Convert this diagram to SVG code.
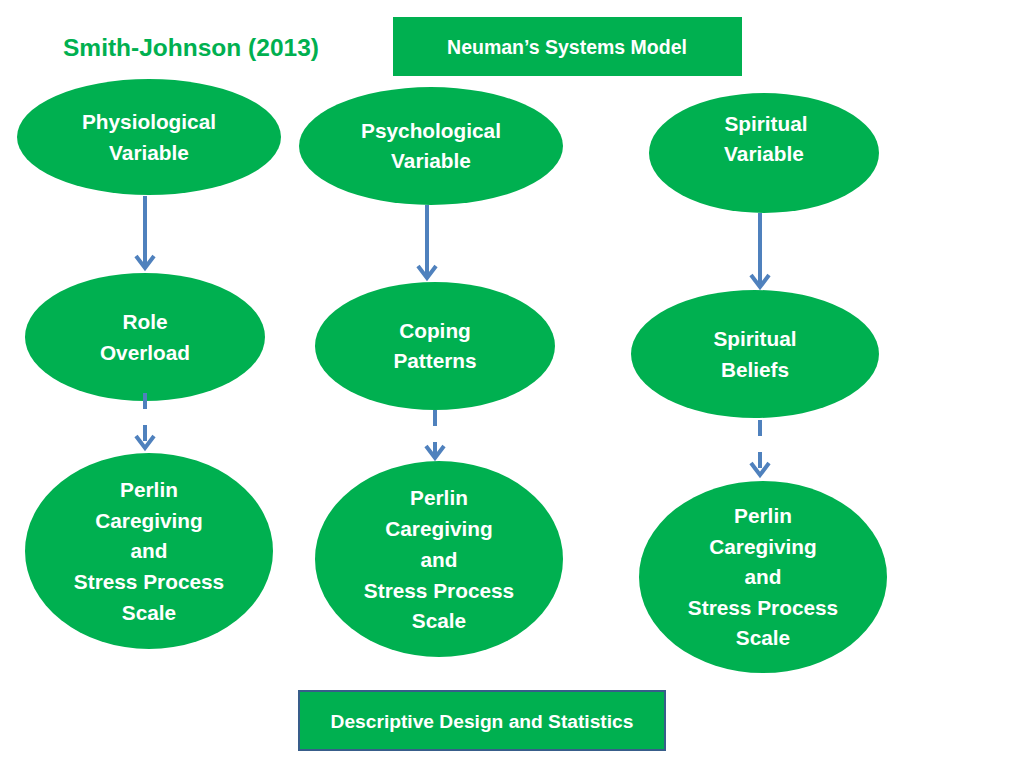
<svg xmlns="http://www.w3.org/2000/svg" width="1024" height="768" viewBox="0 0 1024 768">
<defs>
<style>
.n{fill:#00B050;}
.t{font-family:"Liberation Sans",Arial,sans-serif;font-weight:bold;fill:#ffffff;font-size:20.8px;text-anchor:middle;}
.c{stroke:#4F81BD;stroke-width:4;fill:none;}
.d{stroke-dasharray:16,16;}
</style>
</defs>
<rect width="1024" height="768" fill="#ffffff"/>
<text x="63" y="56" font-family="Liberation Sans,Arial,sans-serif" font-weight="bold" font-size="24.5" fill="#00B050">Smith-Johnson (2013)</text>
<g id="neuman">
<rect x="393" y="17" width="349" height="59" class="n"/>
<text x="567" y="54" class="t" style="font-size:19.5px">Neuman’s Systems Model</text>
</g>
<g id="physiological">
<ellipse cx="149" cy="137" rx="132" ry="58" class="n"/>
<text class="t" x="149" y="129">Physiological</text>
<text class="t" x="149" y="160">Variable</text>
</g>
<g id="psychological">
<ellipse cx="431" cy="146" rx="132" ry="59" class="n"/>
<text class="t" x="431" y="138">Psychological</text>
<text class="t" x="431" y="168">Variable</text>
</g>
<g id="spiritual">
<ellipse cx="764" cy="153" rx="115" ry="60" class="n"/>
<text class="t" x="766" y="131">Spiritual</text>
<text class="t" x="764" y="161">Variable</text>
</g>
<g id="role">
<ellipse cx="145" cy="337" rx="120" ry="64" class="n"/>
<text class="t" x="145" y="329">Role</text>
<text class="t" x="145" y="360">Overload</text>
</g>
<g id="coping">
<ellipse cx="435" cy="346" rx="120" ry="64" class="n"/>
<text class="t" x="435" y="338">Coping</text>
<text class="t" x="435" y="368">Patterns</text>
</g>
<g id="beliefs">
<ellipse cx="755" cy="354" rx="124" ry="64" class="n"/>
<text class="t" x="755" y="346">Spiritual</text>
<text class="t" x="755" y="377">Beliefs</text>
</g>
<g id="perlin1">
<ellipse cx="149" cy="551" rx="124" ry="98" class="n"/>
<text class="t" x="149" y="497">Perlin</text>
<text class="t" x="149" y="528">Caregiving</text>
<text class="t" x="149" y="558">and</text>
<text class="t" x="149" y="589">Stress Process</text>
<text class="t" x="149" y="620">Scale</text>
</g>
<g id="perlin2">
<ellipse cx="439" cy="559" rx="124" ry="98" class="n"/>
<text class="t" x="439" y="505">Perlin</text>
<text class="t" x="439" y="536">Caregiving</text>
<text class="t" x="439" y="567">and</text>
<text class="t" x="439" y="598">Stress Process</text>
<text class="t" x="439" y="628">Scale</text>
</g>
<g id="perlin3">
<ellipse cx="763" cy="577" rx="124" ry="96" class="n"/>
<text class="t" x="763" y="523">Perlin</text>
<text class="t" x="763" y="554">Caregiving</text>
<text class="t" x="763" y="584">and</text>
<text class="t" x="763" y="615">Stress Process</text>
<text class="t" x="763" y="645">Scale</text>
</g>
<g id="descriptive">
<rect x="299" y="691" width="366" height="59" fill="#00B050" stroke="#385D8A" stroke-width="2"/>
<text class="t" x="482" y="728" style="font-size:19.2px">Descriptive Design and Statistics</text>
</g>
<g id="connectors">
<line class="c" x1="145" y1="196" x2="145" y2="268"/>
<polyline class="c" points="136,256 145,268 154,256"/>
<line class="c" x1="427" y1="205" x2="427" y2="278"/>
<polyline class="c" points="418,266 427,278 436,266"/>
<line class="c" x1="760" y1="213" x2="760" y2="287"/>
<polyline class="c" points="751,275 760,287 769,275"/>
<line class="c d" x1="145" y1="393" x2="145" y2="448"/>
<polyline class="c" points="136,436 145,448 154,436"/>
<line class="c d" x1="435" y1="410" x2="435" y2="458"/>
<polyline class="c" points="426,446 435,458 444,446"/>
<line class="c d" x1="760" y1="420" x2="760" y2="475"/>
<polyline class="c" points="751,463 760,475 769,463"/>
</g>
</svg>
